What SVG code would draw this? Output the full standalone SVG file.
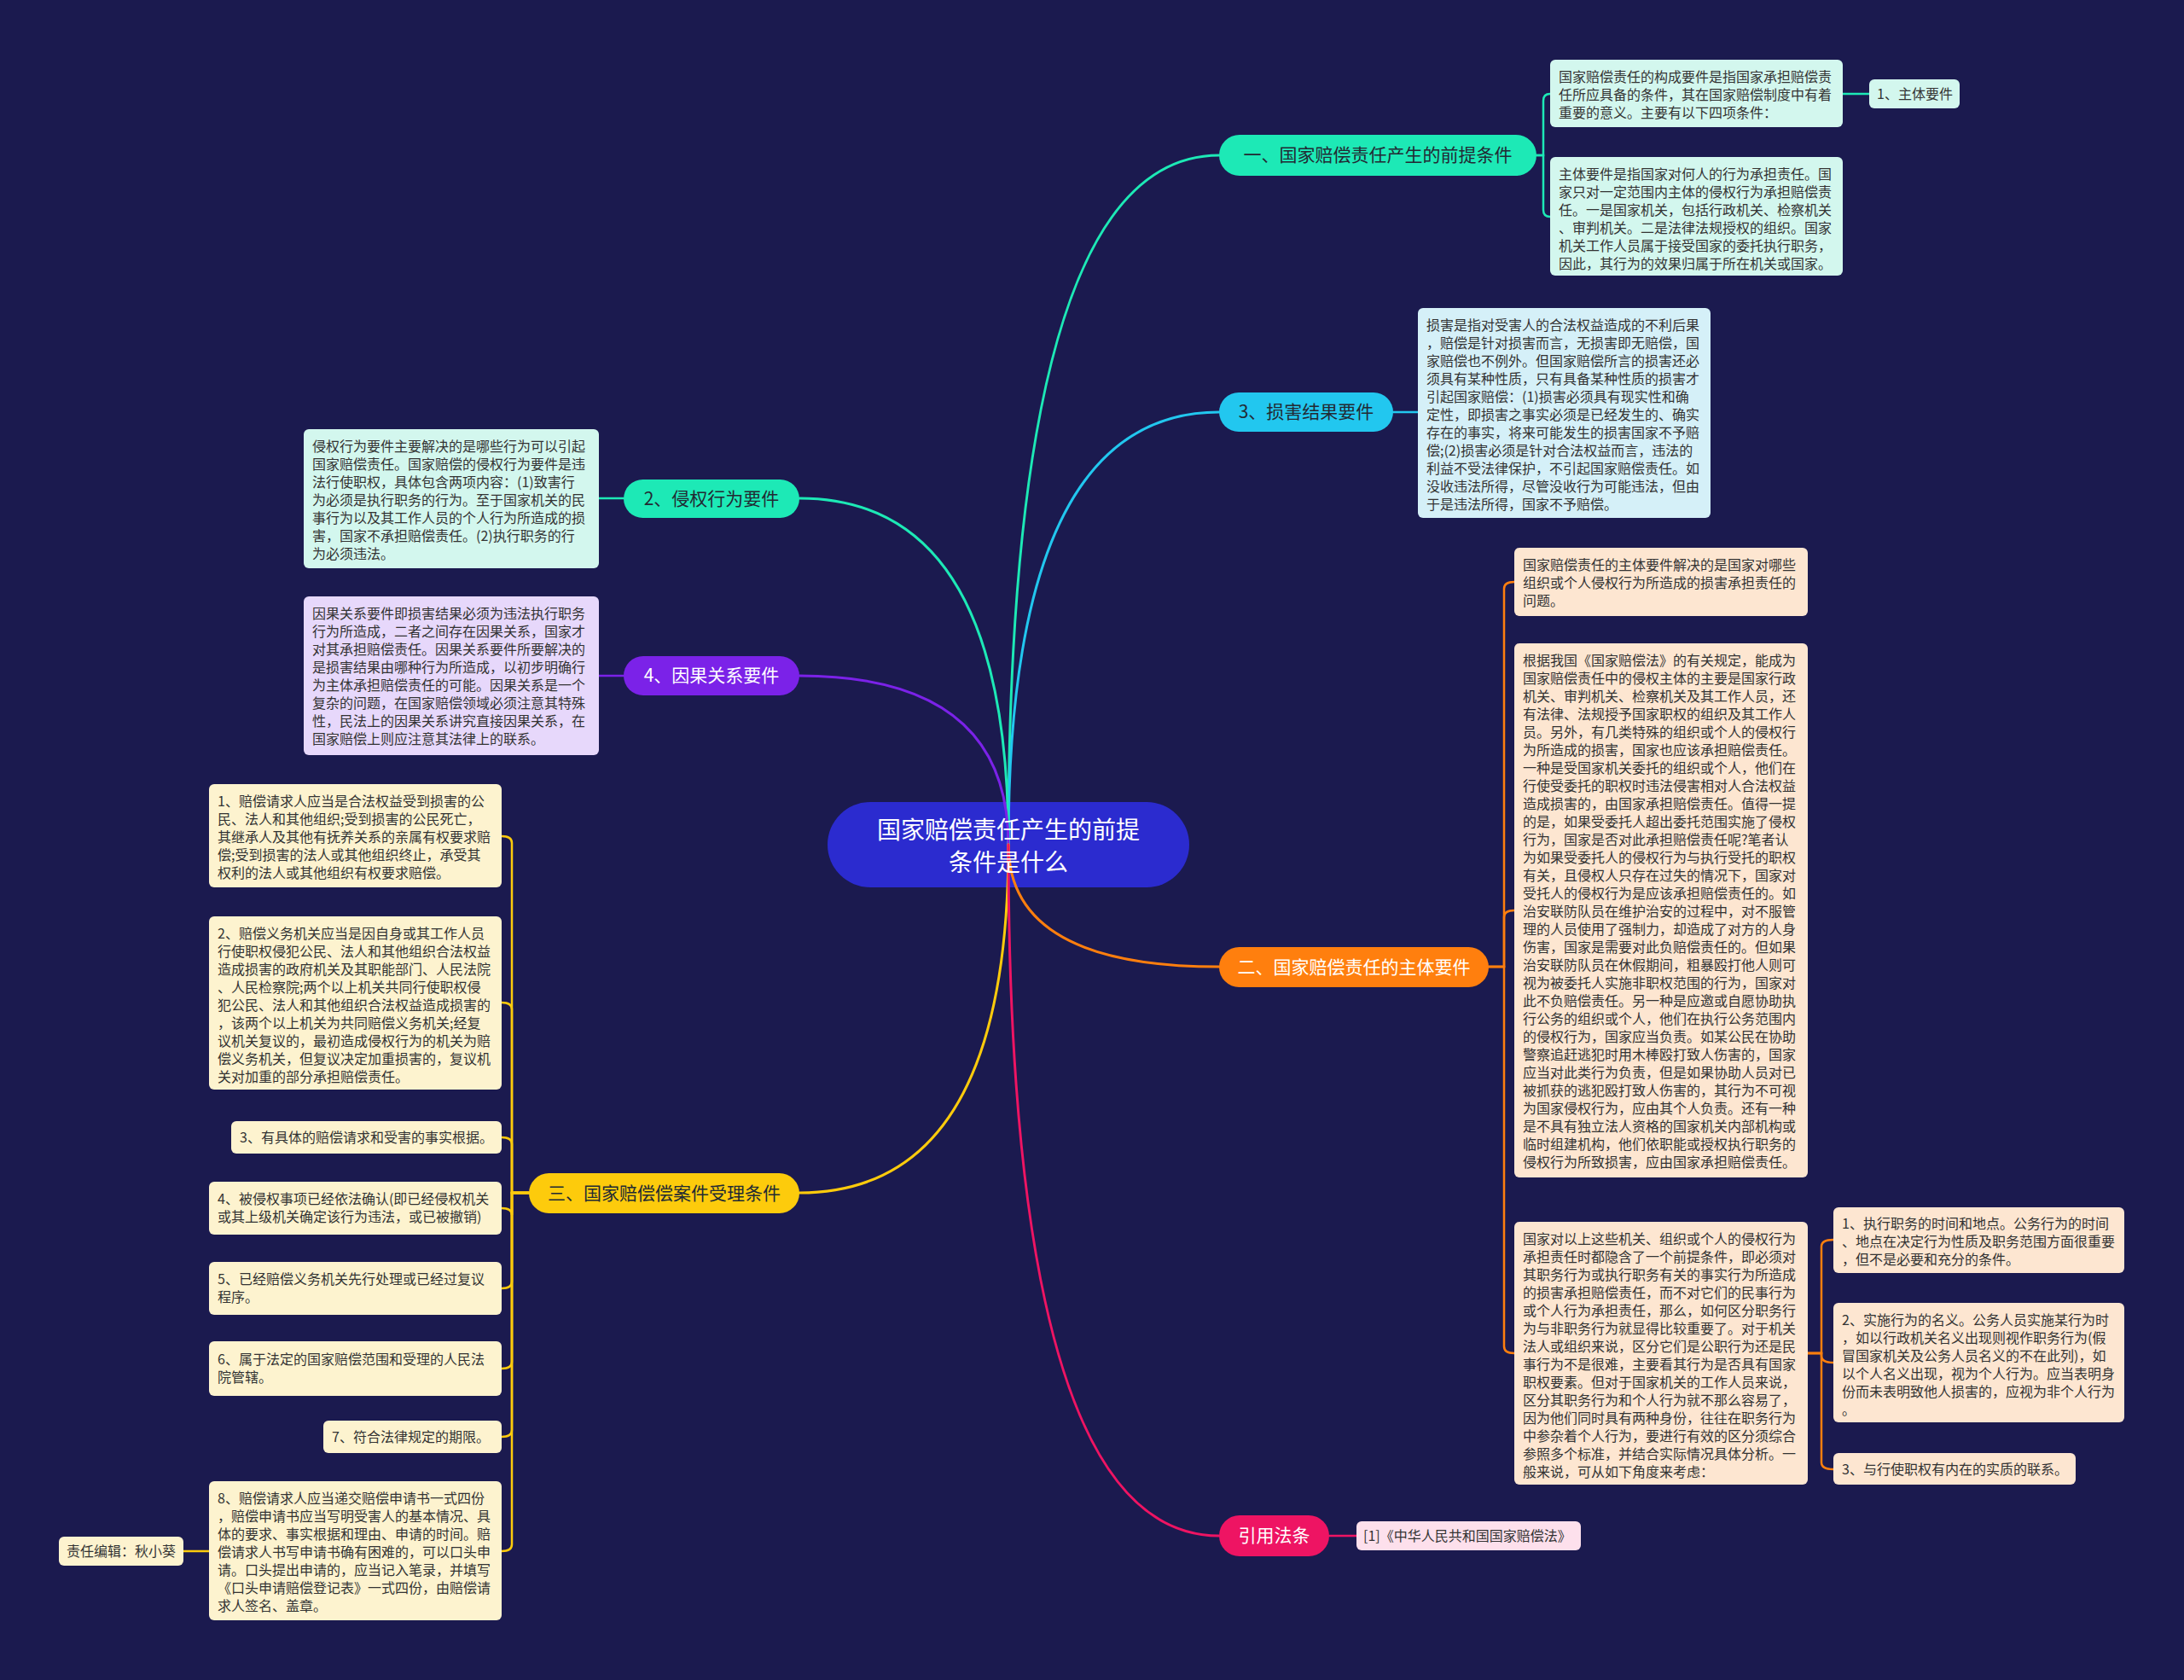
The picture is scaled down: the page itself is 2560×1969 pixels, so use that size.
<svg xmlns="http://www.w3.org/2000/svg" width="2560" height="1969" viewBox="0 0 2560 1969">
<style>
text{font-family:"Noto Sans CJK SC","Noto Sans",sans-serif}
.bt{font-size:16px;fill:#333333}
.nt{font-size:21px;text-anchor:middle}
.dk{fill:#222a33}
.wt{fill:#ffffff}
.c{fill:none;stroke-width:3;stroke-linecap:round}
.b{fill:none;stroke-width:2.5;stroke-linecap:round}
.teal{fill:#d3f7ee}
.cyanb{fill:#d5f0f8}
.lav{fill:#e7d8fb}
.peach{fill:#fde6d1}
.cream{fill:#fdf3cf}
.pink{fill:#fde0ec}
</style>
<rect width="2560" height="1969" fill="#1b1a4f"/>

<g id="root">
<rect x="970" y="940" width="424" height="100" rx="50" fill="#2b2bcf"/>
</g>

<g id="connectors">
<path class="c" stroke="#1de9b6" d="M1182,990 Q1182,182 1429,182"/>
<path class="c" stroke="#22c7ef" d="M1182,990 Q1182,483 1429,483"/>
<path class="c" stroke="#1de9b6" d="M1182,990 Q1182,584 937,584"/>
<path class="c" stroke="#7b22e8" d="M1182,990 Q1182,792 937,792"/>
<path class="c" stroke="#fdcb0c" d="M1182,990 Q1182,1398 937,1398"/>
<path class="c" stroke="#ff7f0e" d="M1182,990 Q1182,1133 1429,1133"/>
<path class="c" stroke="#ee1463" d="M1182,990 Q1182,1800 1429,1800"/>
<!-- 一 bracket -->
<path class="b" stroke="#1de9b6" d="M1801,182 H1809 V118 Q1809,110 1817,110"/>
<path class="b" stroke="#1de9b6" d="M1801,182 H1809 V246 Q1809,254 1817,254"/>
<path class="b" stroke="#1de9b6" d="M2160,110 H2191"/>
<!-- 3 -->
<path class="b" stroke="#22c7ef" d="M1633,483 H1662"/>
<!-- 2, 4 -->
<path class="b" stroke="#1de9b6" d="M702,584 H731"/>
<path class="b" stroke="#7b22e8" d="M702,792 H731"/>
<!-- 二 bracket -->
<path class="b" stroke="#ff7f0e" d="M1745,1133 H1763 V690 Q1763,682 1775,682"/>
<path class="b" stroke="#ff7f0e" d="M1745,1133 H1763 V1075 Q1763,1067 1775,1067"/>
<path class="b" stroke="#ff7f0e" d="M1745,1133 H1763 V1578 Q1763,1586 1775,1586"/>
<path class="b" stroke="#ff7f0e" d="M2119,1586 H2135 V1461 Q2135,1453 2149,1453"/>
<path class="b" stroke="#ff7f0e" d="M2119,1586 H2135 V1589 Q2135,1597 2149,1597"/>
<path class="b" stroke="#ff7f0e" d="M2119,1586 H2135 V1714 Q2135,1722 2149,1722"/>
<!-- 三 bracket -->
<path class="b" stroke="#fdcb0c" d="M620,1398 H600 V988 Q600,980 588,980"/>
<path class="b" stroke="#fdcb0c" d="M620,1398 H600 V1183 Q600,1175 588,1175"/>
<path class="b" stroke="#fdcb0c" d="M620,1398 H600 V1341 Q600,1333 588,1333"/>
<path class="b" stroke="#fdcb0c" d="M620,1398 H600 V1424 Q600,1416 588,1416"/>
<path class="b" stroke="#fdcb0c" d="M620,1398 H600 V1502 Q600,1510 588,1510"/>
<path class="b" stroke="#fdcb0c" d="M620,1398 H600 V1596 Q600,1604 588,1604"/>
<path class="b" stroke="#fdcb0c" d="M620,1398 H600 V1676 Q600,1684 588,1684"/>
<path class="b" stroke="#fdcb0c" d="M620,1398 H600 V1810 Q600,1818 588,1818"/>
<path class="b" stroke="#fdcb0c" d="M245,1818 H215"/>
<!-- 引用 -->
<path class="b" stroke="#ee1463" d="M1558,1800 H1590"/>
</g>

<g id="root-label">
<text x="1182" y="983" text-anchor="middle" font-size="28" fill="#ffffff">国家赔偿责任产生的前提</text>
<text x="1182" y="1021" text-anchor="middle" font-size="28" fill="#ffffff">条件是什么</text>
</g>

<g id="n1">
<rect x="1429" y="158" width="372" height="48" rx="24" fill="#1de9b6"/>
<text class="nt dk" x="1615" y="189">一、国家赔偿责任产生的前提条件</text>
</g>
<g id="n1a">
<rect class="teal" x="1817" y="70" width="343" height="79" rx="6"/>
<text class="bt" x="1827" y="96"><tspan x="1827">国家赔偿责任的构成要件是指国家承担赔偿责</tspan><tspan x="1827" dy="21">任所应具备的条件，其在国家赔偿制度中有着</tspan><tspan x="1827" dy="21">重要的意义。主要有以下四项条件：</tspan></text>
</g>
<g id="n1a1">
<rect class="teal" x="2191" y="93" width="106" height="34" rx="6"/>
<text class="bt" x="2200" y="116">1、主体要件</text>
</g>
<g id="n1b">
<rect class="teal" x="1817" y="184" width="343" height="139" rx="6"/>
<text class="bt" x="1827" y="210"><tspan x="1827">主体要件是指国家对何人的行为承担责任。国</tspan><tspan x="1827" dy="21">家只对一定范围内主体的侵权行为承担赔偿责</tspan><tspan x="1827" dy="21">任。一是国家机关，包括行政机关、检察机关</tspan><tspan x="1827" dy="21">、审判机关。二是法律法规授权的组织。国家</tspan><tspan x="1827" dy="21">机关工作人员属于接受国家的委托执行职务，</tspan><tspan x="1827" dy="21">因此，其行为的效果归属于所在机关或国家。</tspan></text>
</g>

<g id="n3">
<rect x="1429" y="460" width="204" height="46" rx="23" fill="#22c7ef"/>
<text class="nt dk" x="1531" y="490">3、损害结果要件</text>
</g>
<g id="n3a">
<rect class="cyanb" x="1662" y="361" width="343" height="246" rx="6"/>
<text class="bt" x="1672" y="387"><tspan x="1672">损害是指对受害人的合法权益造成的不利后果</tspan><tspan x="1672" dy="21">，赔偿是针对损害而言，无损害即无赔偿，国</tspan><tspan x="1672" dy="21">家赔偿也不例外。但国家赔偿所言的损害还必</tspan><tspan x="1672" dy="21">须具有某种性质，只有具备某种性质的损害才</tspan><tspan x="1672" dy="21">引起国家赔偿：(1)损害必须具有现实性和确</tspan><tspan x="1672" dy="21">定性，即损害之事实必须是已经发生的、确实</tspan><tspan x="1672" dy="21">存在的事实，将来可能发生的损害国家不予赔</tspan><tspan x="1672" dy="21">偿;(2)损害必须是针对合法权益而言，违法的</tspan><tspan x="1672" dy="21">利益不受法律保护，不引起国家赔偿责任。如</tspan><tspan x="1672" dy="21">没收违法所得，尽管没收行为可能违法，但由</tspan><tspan x="1672" dy="21">于是违法所得，国家不予赔偿。</tspan></text>
</g>

<g id="n2">
<rect x="731" y="562" width="206" height="45" rx="22.5" fill="#1de9b6"/>
<text class="nt dk" x="834" y="592">2、侵权行为要件</text>
</g>
<g id="n2a">
<rect class="teal" x="356" y="503" width="346" height="163" rx="6"/>
<text class="bt" x="366" y="529"><tspan x="366">侵权行为要件主要解决的是哪些行为可以引起</tspan><tspan x="366" dy="21">国家赔偿责任。国家赔偿的侵权行为要件是违</tspan><tspan x="366" dy="21">法行使职权，具体包含两项内容：(1)致害行</tspan><tspan x="366" dy="21">为必须是执行职务的行为。至于国家机关的民</tspan><tspan x="366" dy="21">事行为以及其工作人员的个人行为所造成的损</tspan><tspan x="366" dy="21">害，国家不承担赔偿责任。(2)执行职务的行</tspan><tspan x="366" dy="21">为必须违法。</tspan></text>
</g>

<g id="n4">
<rect x="731" y="769" width="206" height="46" rx="23" fill="#7b22e8"/>
<text class="nt wt" x="834" y="799">4、因果关系要件</text>
</g>
<g id="n4a">
<rect class="lav" x="356" y="699" width="346" height="186" rx="6"/>
<text class="bt" x="366" y="725"><tspan x="366">因果关系要件即损害结果必须为违法执行职务</tspan><tspan x="366" dy="21">行为所造成，二者之间存在因果关系，国家才</tspan><tspan x="366" dy="21">对其承担赔偿责任。因果关系要件所要解决的</tspan><tspan x="366" dy="21">是损害结果由哪种行为所造成，以初步明确行</tspan><tspan x="366" dy="21">为主体承担赔偿责任的可能。因果关系是一个</tspan><tspan x="366" dy="21">复杂的问题，在国家赔偿领域必须注意其特殊</tspan><tspan x="366" dy="21">性，民法上的因果关系讲究直接因果关系，在</tspan><tspan x="366" dy="21">国家赔偿上则应注意其法律上的联系。</tspan></text>
</g>

<g id="n5">
<rect x="1429" y="1110" width="316" height="47" rx="23.5" fill="#ff7f0e"/>
<text class="nt wt" x="1587" y="1141">二、国家赔偿责任的主体要件</text>
</g>
<g id="n5a">
<rect class="peach" x="1775" y="642" width="344" height="80" rx="6"/>
<text class="bt" x="1785" y="668"><tspan x="1785">国家赔偿责任的主体要件解决的是国家对哪些</tspan><tspan x="1785" dy="21">组织或个人侵权行为所造成的损害承担责任的</tspan><tspan x="1785" dy="21">问题。</tspan></text>
</g>
<g id="n5b">
<rect class="peach" x="1775" y="754" width="344" height="626" rx="6"/>
<text class="bt" x="1785" y="780"><tspan x="1785">根据我国《国家赔偿法》的有关规定，能成为</tspan><tspan x="1785" dy="21">国家赔偿责任中的侵权主体的主要是国家行政</tspan><tspan x="1785" dy="21">机关、审判机关、检察机关及其工作人员，还</tspan><tspan x="1785" dy="21">有法律、法规授予国家职权的组织及其工作人</tspan><tspan x="1785" dy="21">员。另外，有几类特殊的组织或个人的侵权行</tspan><tspan x="1785" dy="21">为所造成的损害，国家也应该承担赔偿责任。</tspan><tspan x="1785" dy="21">一种是受国家机关委托的组织或个人，他们在</tspan><tspan x="1785" dy="21">行使受委托的职权时违法侵害相对人合法权益</tspan><tspan x="1785" dy="21">造成损害的，由国家承担赔偿责任。值得一提</tspan><tspan x="1785" dy="21">的是，如果受委托人超出委托范围实施了侵权</tspan><tspan x="1785" dy="21">行为，国家是否对此承担赔偿责任呢?笔者认</tspan><tspan x="1785" dy="21">为如果受委托人的侵权行为与执行受托的职权</tspan><tspan x="1785" dy="21">有关，且侵权人只存在过失的情况下，国家对</tspan><tspan x="1785" dy="21">受托人的侵权行为是应该承担赔偿责任的。如</tspan><tspan x="1785" dy="21">治安联防队员在维护治安的过程中，对不服管</tspan><tspan x="1785" dy="21">理的人员使用了强制力，却造成了对方的人身</tspan><tspan x="1785" dy="21">伤害，国家是需要对此负赔偿责任的。但如果</tspan><tspan x="1785" dy="21">治安联防队员在休假期间，粗暴殴打他人则可</tspan><tspan x="1785" dy="21">视为被委托人实施非职权范围的行为，国家对</tspan><tspan x="1785" dy="21">此不负赔偿责任。另一种是应邀或自愿协助执</tspan><tspan x="1785" dy="21">行公务的组织或个人，他们在执行公务范围内</tspan><tspan x="1785" dy="21">的侵权行为，国家应当负责。如某公民在协助</tspan><tspan x="1785" dy="21">警察追赶逃犯时用木棒殴打致人伤害的，国家</tspan><tspan x="1785" dy="21">应当对此类行为负责，但是如果协助人员对已</tspan><tspan x="1785" dy="21">被抓获的逃犯殴打致人伤害的，其行为不可视</tspan><tspan x="1785" dy="21">为国家侵权行为，应由其个人负责。还有一种</tspan><tspan x="1785" dy="21">是不具有独立法人资格的国家机关内部机构或</tspan><tspan x="1785" dy="21">临时组建机构，他们依职能或授权执行职务的</tspan><tspan x="1785" dy="21">侵权行为所致损害，应由国家承担赔偿责任。</tspan></text>
</g>
<g id="n5c">
<rect class="peach" x="1775" y="1432" width="344" height="308" rx="6"/>
<text class="bt" x="1785" y="1458"><tspan x="1785">国家对以上这些机关、组织或个人的侵权行为</tspan><tspan x="1785" dy="21">承担责任时都隐含了一个前提条件，即必须对</tspan><tspan x="1785" dy="21">其职务行为或执行职务有关的事实行为所造成</tspan><tspan x="1785" dy="21">的损害承担赔偿责任，而不对它们的民事行为</tspan><tspan x="1785" dy="21">或个人行为承担责任，那么，如何区分职务行</tspan><tspan x="1785" dy="21">为与非职务行为就显得比较重要了。对于机关</tspan><tspan x="1785" dy="21">法人或组织来说，区分它们是公职行为还是民</tspan><tspan x="1785" dy="21">事行为不是很难，主要看其行为是否具有国家</tspan><tspan x="1785" dy="21">职权要素。但对于国家机关的工作人员来说，</tspan><tspan x="1785" dy="21">区分其职务行为和个人行为就不那么容易了，</tspan><tspan x="1785" dy="21">因为他们同时具有两种身份，往往在职务行为</tspan><tspan x="1785" dy="21">中参杂着个人行为，要进行有效的区分须综合</tspan><tspan x="1785" dy="21">参照多个标准，并结合实际情况具体分析。一</tspan><tspan x="1785" dy="21">般来说，可从如下角度来考虑：</tspan></text>
</g>
<g id="n5c1">
<rect class="peach" x="2149" y="1415" width="341" height="77" rx="6"/>
<text class="bt" x="2159" y="1440"><tspan x="2159">1、执行职务的时间和地点。公务行为的时间</tspan><tspan x="2159" dy="21">、地点在决定行为性质及职务范围方面很重要</tspan><tspan x="2159" dy="21">，但不是必要和充分的条件。</tspan></text>
</g>
<g id="n5c2">
<rect class="peach" x="2149" y="1527" width="341" height="140" rx="6"/>
<text class="bt" x="2159" y="1553"><tspan x="2159">2、实施行为的名义。公务人员实施某行为时</tspan><tspan x="2159" dy="21">，如以行政机关名义出现则视作职务行为(假</tspan><tspan x="2159" dy="21">冒国家机关及公务人员名义的不在此列)，如</tspan><tspan x="2159" dy="21">以个人名义出现，视为个人行为。应当表明身</tspan><tspan x="2159" dy="21">份而未表明致他人损害的，应视为非个人行为</tspan><tspan x="2159" dy="21">。</tspan></text>
</g>
<g id="n5c3">
<rect class="peach" x="2149" y="1703" width="284" height="37" rx="6"/>
<text class="bt" x="2159" y="1728">3、与行使职权有内在的实质的联系。</text>
</g>

<g id="n6">
<rect x="620" y="1375" width="317" height="47" rx="23.5" fill="#fdcb0c"/>
<text class="nt dk" x="778.5" y="1406">三、国家赔偿偿案件受理条件</text>
</g>
<g id="n6a">
<rect class="cream" x="245" y="919" width="343" height="121" rx="6"/>
<text class="bt" x="255" y="945"><tspan x="255">1、赔偿请求人应当是合法权益受到损害的公</tspan><tspan x="255" dy="21">民、法人和其他组织;受到损害的公民死亡，</tspan><tspan x="255" dy="21">其继承人及其他有抚养关系的亲属有权要求赔</tspan><tspan x="255" dy="21">偿;受到损害的法人或其他组织终止，承受其</tspan><tspan x="255" dy="21">权利的法人或其他组织有权要求赔偿。</tspan></text>
</g>
<g id="n6b">
<rect class="cream" x="245" y="1074" width="343" height="203" rx="6"/>
<text class="bt" x="255" y="1100"><tspan x="255">2、赔偿义务机关应当是因自身或其工作人员</tspan><tspan x="255" dy="21">行使职权侵犯公民、法人和其他组织合法权益</tspan><tspan x="255" dy="21">造成损害的政府机关及其职能部门、人民法院</tspan><tspan x="255" dy="21">、人民检察院;两个以上机关共同行使职权侵</tspan><tspan x="255" dy="21">犯公民、法人和其他组织合法权益造成损害的</tspan><tspan x="255" dy="21">，该两个以上机关为共同赔偿义务机关;经复</tspan><tspan x="255" dy="21">议机关复议的，最初造成侵权行为的机关为赔</tspan><tspan x="255" dy="21">偿义务机关，但复议决定加重损害的，复议机</tspan><tspan x="255" dy="21">关对加重的部分承担赔偿责任。</tspan></text>
</g>
<g id="n6c">
<rect class="cream" x="271" y="1314" width="317" height="38" rx="6"/>
<text class="bt" x="281" y="1339">3、有具体的赔偿请求和受害的事实根据。</text>
</g>
<g id="n6d">
<rect class="cream" x="245" y="1385" width="343" height="62" rx="6"/>
<text class="bt" x="255" y="1411"><tspan x="255">4、被侵权事项已经依法确认(即已经侵权机关</tspan><tspan x="255" dy="21">或其上级机关确定该行为违法，或已被撤销)</tspan></text>
</g>
<g id="n6e">
<rect class="cream" x="245" y="1479" width="343" height="62" rx="6"/>
<text class="bt" x="255" y="1505"><tspan x="255">5、已经赔偿义务机关先行处理或已经过复议</tspan><tspan x="255" dy="21">程序。</tspan></text>
</g>
<g id="n6f">
<rect class="cream" x="245" y="1572" width="343" height="64" rx="6"/>
<text class="bt" x="255" y="1599"><tspan x="255">6、属于法定的国家赔偿范围和受理的人民法</tspan><tspan x="255" dy="21">院管辖。</tspan></text>
</g>
<g id="n6g">
<rect class="cream" x="379" y="1665" width="209" height="38" rx="6"/>
<text class="bt" x="389" y="1690">7、符合法律规定的期限。</text>
</g>
<g id="n6h">
<rect class="cream" x="245" y="1736" width="343" height="163" rx="6"/>
<text class="bt" x="255" y="1762"><tspan x="255">8、赔偿请求人应当递交赔偿申请书一式四份</tspan><tspan x="255" dy="21">，赔偿申请书应当写明受害人的基本情况、具</tspan><tspan x="255" dy="21">体的要求、事实根据和理由、申请的时间。赔</tspan><tspan x="255" dy="21">偿请求人书写申请书确有困难的，可以口头申</tspan><tspan x="255" dy="21">请。口头提出申请的，应当记入笔录，并填写</tspan><tspan x="255" dy="21">《口头申请赔偿登记表》一式四份，由赔偿请</tspan><tspan x="255" dy="21">求人签名、盖章。</tspan></text>
</g>
<g id="n6h1">
<rect class="cream" x="69" y="1801" width="146" height="34" rx="6"/>
<text class="bt" x="78" y="1824">责任编辑：秋小葵</text>
</g>

<g id="n7">
<rect x="1429" y="1776" width="129" height="48" rx="24" fill="#ee1463"/>
<text class="nt wt" x="1493.5" y="1807">引用法条</text>
</g>
<g id="n7a">
<rect class="pink" x="1590" y="1783" width="263" height="34" rx="6"/>
<text class="bt" x="1598" y="1806">[1]《中华人民共和国国家赔偿法》</text>
</g>
</svg>
